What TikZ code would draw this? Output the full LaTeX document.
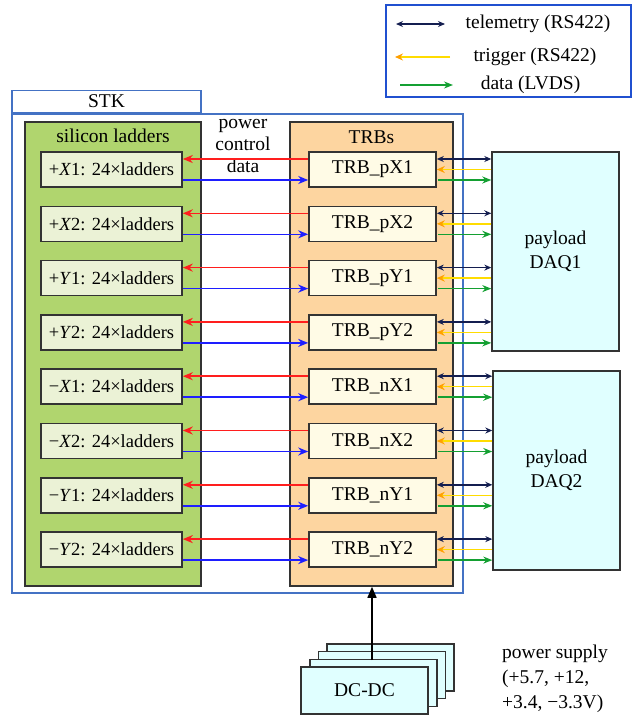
\documentclass[tikz,border=0pt]{standalone}
\usepackage{fontspec}
\setmainfont{Liberation Serif}
\usetikzlibrary{arrows.meta, positioning, calc}
\definecolor{stkblue}{RGB}{68,114,196}
\definecolor{legendblue}{RGB}{32,80,208}
\definecolor{laddergreen}{RGB}{176,213,110}
\definecolor{ladderfill}{RGB}{235,242,214}
\definecolor{trborange}{RGB}{253,213,160}
\definecolor{trbfill}{RGB}{255,251,230}
\definecolor{daqcyan}{RGB}{224,255,255}
\definecolor{boxgray}{RGB}{51,51,51}
\definecolor{pwrred}{RGB}{255,30,30}
\definecolor{ctrlblue}{RGB}{30,30,255}
\definecolor{tmnavy}{RGB}{20,30,80}
\definecolor{trigyellow}{RGB}{255,220,0}
\definecolor{trigorange}{RGB}{255,160,0}
\definecolor{datagreen}{RGB}{20,160,50}
\tikzset{
  groupframe/.style={draw=boxgray, line width=1.6pt, inner sep=0pt},
  laddergroup/.style={groupframe, fill=laddergreen, minimum width=176pt, minimum height=464pt},
  trbgroup/.style={groupframe, fill=trborange, minimum width=163pt, minimum height=464pt},
  ladderbox/.style={draw=boxgray, line width=1.6pt, fill=ladderfill, minimum width=141pt,
                    minimum height=35pt, inner sep=0pt, font=\fontsize{18.5}{22}\selectfont},
  trbbox/.style={draw=boxgray, line width=1.6pt, fill=trbfill, minimum width=127pt,
                 minimum height=35pt, inner sep=0pt},
  daqbox/.style={draw=boxgray, line width=1.4pt, fill=daqcyan, minimum width=127pt,
                 minimum height=199pt, align=center, font=\fontsize{19.5}{24}\selectfont},
  dcbox/.style={draw=boxgray, line width=1.4pt, fill=daqcyan, minimum width=127pt, minimum height=47pt},
  stkframe/.style={draw=stkblue, line width=1.4pt, minimum width=451pt, minimum height=479pt},
  stktab/.style={draw=stkblue, line width=1.4pt, minimum width=189pt, minimum height=22pt, inner sep=0pt},
  legendframe/.style={draw=legendblue, line width=1.8pt, minimum width=245pt, minimum height=92pt},
  pwrline/.style={-{Stealth[length=10pt,width=8pt]}, draw=pwrred, line width=1.6pt},
  ctrlline/.style={-{Stealth[length=10pt,width=8pt]}, draw=ctrlblue, line width=1.6pt},
  tmline/.style={{Stealth[length=7pt,width=6pt]}-{Stealth[length=7pt,width=6pt]}, draw=tmnavy, line width=1.5pt},
  trigline/.style={-{Stealth[length=8pt,width=7pt,color=trigorange]}, draw=trigyellow, line width=1.5pt},
  dataline/.style={-{Stealth[length=9pt,width=7pt]}, draw=datagreen, line width=1.5pt},
  supplyline/.style={-{Triangle[length=11pt,width=9pt]}, draw=black, line width=1.5pt},
}
\begin{document}
\begin{tikzpicture}[x=1pt, y=-1pt,
  every node/.style={font=\fontsize{19.5}{23}\selectfont},
]
\useasboundingbox (0,0) rectangle (635,715);
% frames
\node[stkframe] (stk) at (237.5,353.5) {};
\node[stktab, above right=0pt and 0pt of stk.north west] (stktab) {STK};
\node[laddergroup] (ladders) at (113,354) {};
\node[trbgroup] (trbs) at (371.5,354) {};
\node[below=8pt of ladders.north, inner sep=0pt] (laddertitle) {silicon ladders};
\node[below=9pt of trbs.north, inner sep=0pt] (trbtitle) {TRBs};
\node[align=center, inner sep=0pt, font=\fontsize{19.5}{22}\selectfont] (sigtext) at (243,146) {power\\control\\data};
% DAQ boxes
\node[daqbox] (daq1) at (555.5,251.5) {payload\\DAQ1};
\node[daqbox] (daq2) at (556.5,470.5) {payload\\DAQ2};
% ladders, TRBs and links
\foreach \n/\lab/\d [count=\i from 0] in {pX1/{+\textit{X}1}/1, pX2/{+\textit{X}2}/1,
    pY1/{+\textit{Y}1}/1, pY2/{+\textit{Y}2}/1, nX1/{−\textit{X}1}/2, nX2/{−\textit{X}2}/2,
    nY1/{−\textit{Y}1}/2, nY2/{−\textit{Y}2}/2} {
  \node[ladderbox] (lad\n) at (111.5,{169.5+54.3*\i}) {\lab: 24×ladders};
  \node[trbbox] (trb\n) at (372.5,{169.5+54.3*\i}) {TRB\_\n};
  \draw[pwrline] ([yshift=10.5pt]trb\n.west) -- ([yshift=10.5pt]lad\n.east);
  \draw[ctrlline] ([yshift=-10.5pt]lad\n.east) -- ([yshift=-10.5pt]trb\n.west);
  \coordinate (tm\n) at ([yshift=10.5pt]trb\n.east);
  \coordinate (dt\n) at ([yshift=-10.5pt,xshift=1pt]trb\n.east);
  \draw[tmline] (tm\n) -- (tm\n -| daq\d.west);
  \draw[trigline] (trb\n.east -| daq\d.west) -- (trb\n.east);
  \draw[dataline] (dt\n) -- (dt\n -| daq\d.west);
}
% DC-DC supply
\node[dcbox] (dc4) at (390.5,667.5) {};
\node[dcbox] (dc3) at (382,675) {};
\node[dcbox] (dc2) at (373.5,683) {};
\node[dcbox] (dc1) at (364.5,690.5) {DC-DC};
\coordinate (pwrin) at (372,660);
\draw[supplyline] (pwrin) -- (pwrin |- trbs.south);
\node[align=left, anchor=west, inner sep=0pt, font=\fontsize{19.5}{25}\selectfont] (supplytext) at (502,679)
  {power supply\\(+5.7, +12,\\+3.4, −3.3V)};
% legend
\node[legendframe] (legend) at (508.5,51) {};
\coordinate (lgtmA) at (396,24);
\coordinate (lgtmB) at (445,24);
\coordinate (lgtrA) at (450,57);
\coordinate (lgtrB) at (395,57);
\coordinate (lgdtA) at (400,85);
\coordinate (lgdtB) at (453,85);
\draw[tmline] (lgtmA) -- (lgtmB);
\draw[trigline] (lgtrA) -- (lgtrB);
\draw[dataline] (lgdtA) -- (lgdtB);
\node (lgtmtext) at (538,24) {telemetry (RS422)};
\node (lgtrtext) at (535,57) {trigger (RS422)};
\node (lgdttext) at (530.5,85) {data (LVDS)};
\end{tikzpicture}
\end{document}
